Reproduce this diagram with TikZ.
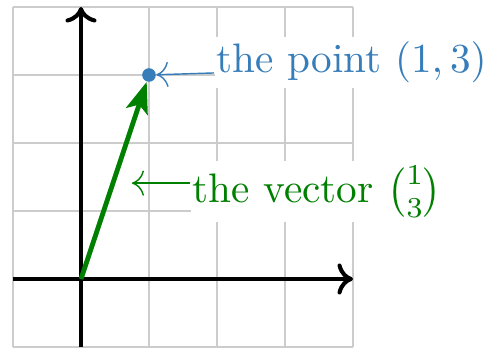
\documentclass[tikz,border=0pt]{standalone}
\usepackage{amsmath}
\usetikzlibrary{arrows.meta}
\definecolor{ptblue}{RGB}{55,125,185}
\definecolor{vgreen}{RGB}{0,128,0}
\tikzset{
  gridline/.style={draw=gray!40, line width=0.6pt},
  axis/.style={line width=1.7pt, -{Computer Modern Rightarrow[length=6.5pt,width=13pt]}},
  vec/.style={vgreen, line width=2pt, -{Stealth[length=13pt,width=9.5pt,inset=3pt]}},
  lblarrow/.style={line width=0.6pt, -{Computer Modern Rightarrow[length=5pt,width=10.5pt]}},
  lbl/.style={anchor=base west, fill=white, inner ysep=1.2pt, inner xsep=0.4pt, scale=1.725, transform shape},
  dot/.style={circle, fill=ptblue, inner sep=0pt, minimum size=0.2cm}
}
\begin{document}
\begin{tikzpicture}
\useasboundingbox (-1.191,-1) rectangle (5.941,4.103);
\draw[gridline] (-1,-1) grid (4,4);
\coordinate (xs) at (-1,0);
\coordinate (xe) at (4,0);
\coordinate (ys) at (0,-1);
\coordinate (ye) at (0,4);
\draw[axis] (xs) -- (xe);
\draw[axis] (ys) -- (ye);
\coordinate (O) at (0,0);
\node[dot] (pt) at (1,3) {};
\draw[vec] (O) -- (pt);
\node[lbl, text=ptblue] (plab) at (1.955,3.03) {the point $(1,3)$};
\draw[lblarrow, ptblue] (plab.base west) -- (pt);
\node[lbl, text=vgreen] (vlab) at (1.605,1.118) {the vector $\binom{1}{3}$};
\coordinate (vtip) at (0.75,1.41);
\draw[lblarrow, vgreen] (vlab.west |- vtip) -- (vtip);
\end{tikzpicture}
\end{document}
